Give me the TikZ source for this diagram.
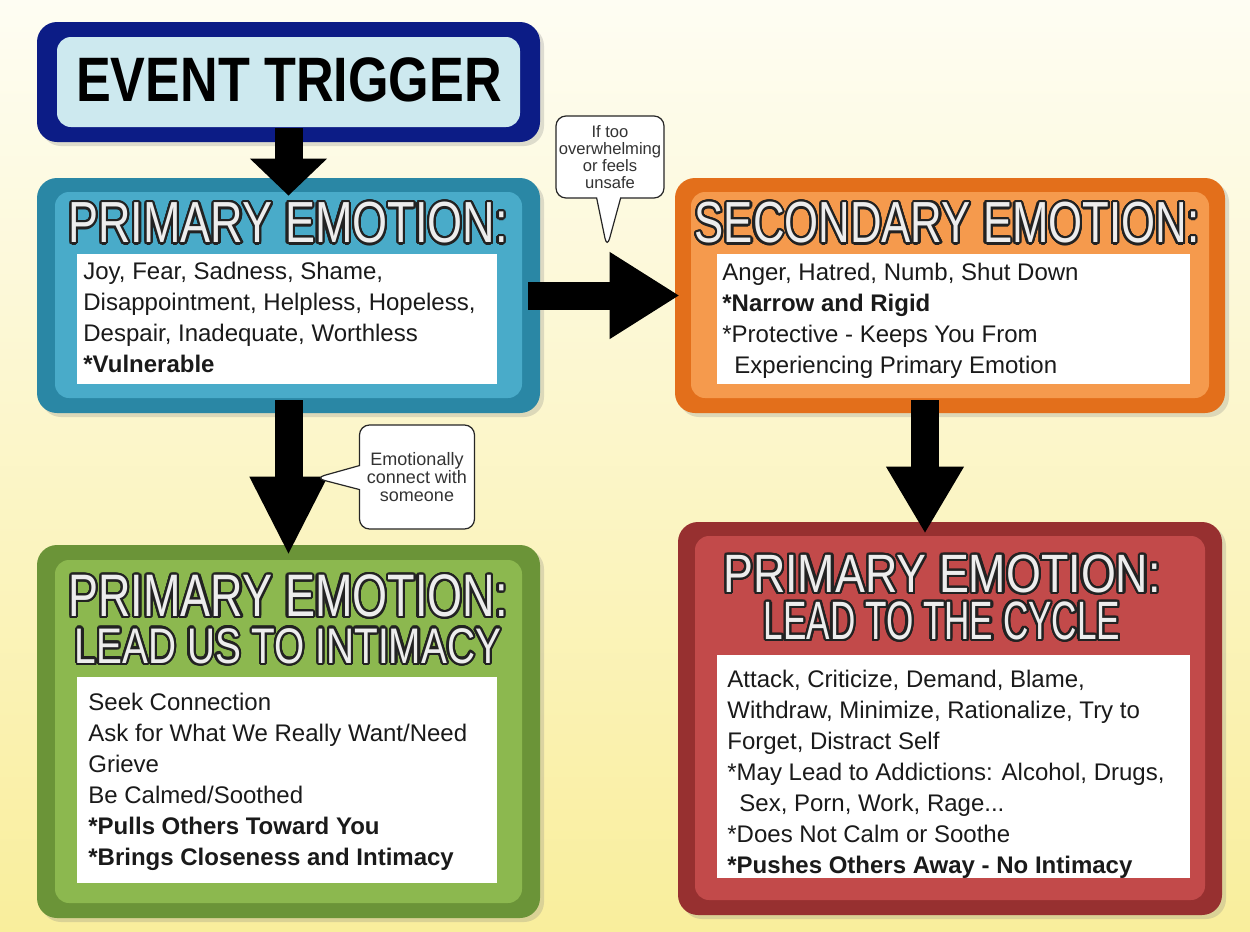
\documentclass[tikz,border=0pt]{standalone}
\usepackage{fontspec}
\usepackage{graphicx}
\usepackage{contour}
\setmainfont{Liberation Sans}
\usetikzlibrary{arrows.meta, fit, shadows, shapes.callouts}

\definecolor{bgtop}{HTML}{FEFDF3}
\definecolor{bgmid}{HTML}{FBF5C6}
\definecolor{bgbot}{HTML}{F9EE9C}
\definecolor{navyout}{HTML}{0C1C86}
\definecolor{navyin}{HTML}{CDE9EF}
\definecolor{blueout}{HTML}{2A87A5}
\definecolor{bluein}{HTML}{49ABC9}
\definecolor{orangeout}{HTML}{E36F1B}
\definecolor{orangein}{HTML}{F59A4D}
\definecolor{greenout}{HTML}{6B9438}
\definecolor{greenin}{HTML}{8CB84F}
\definecolor{redout}{HTML}{973030}
\definecolor{redin}{HTML}{C24A4A}
\definecolor{titlefill}{HTML}{EDEDED}
\definecolor{titleline}{HTML}{222222}
\definecolor{bodytext}{HTML}{1A1A1A}
\definecolor{bubbletext}{HTML}{333333}

\contourlength{1.1pt}
\contournumber{24}

% outlined, horizontally squeezed heading: size, squeeze, text
\newcommand{\paneltitle}[3]{\fontsize{#1}{#1}\selectfont\contour{titleline}{\scalebox{#2}[1]{#3}}}

\begin{document}
\begin{tikzpicture}[x=0.5pt, y=-0.5pt,
    panel/.style={rounded corners=10pt, inner sep=0pt,
        drop shadow={shadow xshift=2pt, shadow yshift=-2pt, opacity=0.25}},
    inset/.style={rounded corners=7pt, inner sep=0pt},
    listbox/.style={fill=white, inner sep=0pt},
    heading/.style={inner sep=0pt, text=titlefill},
    items/.style={anchor=north west, inner sep=0pt, align=left, text=bodytext,
        font=\fontsize{12}{15.5}\selectfont},
    bigarrow/.style 2 args={line width=14pt, -{Triangle[length=#1, width=#2]}},
    bubble/.style={rectangle callout, draw=black!85, line width=0.6pt, fill=white,
        rounded corners=5pt, align=center, inner sep=0pt, text=bubbletext,
        callout pointer width=12pt}]

    \useasboundingbox (0,0) rectangle (1250,932);
    \shade[top color=bgtop, middle color=bgmid, bottom color=bgbot] (0,0) rectangle (1250,932);

    % Event trigger
    \node[panel, fill=navyout, fit={(37,22) (540,142)}] (trigger) {};
    \node[inset, fill=navyin, fit={(57,37) (520,127)}] (triggerin) {};
    \node[inner sep=0pt] (triggertext) at (289,80)
        {\fontsize{31.4}{32}\selectfont\bfseries\scalebox{0.83}[1]{EVENT TRIGGER}};

    % Primary emotion
    \node[panel, fill=blueout, fit={(37,178) (540,413)}] (primary) {};
    \node[inset, fill=bluein, fit={(55,192) (522,398)}] (primaryin) {};
    \node[listbox, fit={(77,254) (497,384)}] (primarybox) {};
    \node[heading] (primaryhead) at (288,224) {\paneltitle{29}{0.776}{PRIMARY EMOTION:}};
    \node[items] (primarylist) at (83,262)
        {Joy, Fear, Sadness, Shame,\\Disappointment, Helpless, Hopeless,\\Despair, Inadequate, Worthless\\\textbf{*Vulnerable}};

    % Secondary emotion
    \node[panel, fill=orangeout, fit={(675,178) (1225,413)}] (secondary) {};
    \node[inset, fill=orangein, fit={(691,192) (1209,398)}] (secondaryin) {};
    \node[listbox, fit={(717,254) (1190,384)}] (secondarybox) {};
    \node[heading] (secondaryhead) at (947,224) {\paneltitle{29}{0.754}{SECONDARY EMOTION:}};
    \node[items] (secondarylist) at (722,263)
        {Anger, Hatred, Numb, Shut Down\\\textbf{*Narrow and Rigid}\\{}*Protective - Keeps You From\\\hspace*{6pt}Experiencing Primary Emotion};

    % Intimacy
    \node[panel, fill=greenout, fit={(37,545) (540,918)}] (intimacy) {};
    \node[inset, fill=greenin, fit={(55,560) (522,903)}] (intimacyin) {};
    \node[listbox, fit={(77,677) (497,883)}] (intimacybox) {};
    \node[heading] (intimacyhead) at (288,597) {\paneltitle{30}{0.75}{PRIMARY EMOTION:}};
    \node[heading] (intimacysub) at (288,647) {\paneltitle{25}{0.776}{LEAD US TO INTIMACY}};
    \node[items] (intimacylist) at (88,693)
        {Seek Connection\\Ask for What We Really Want/Need\\Grieve\\Be Calmed/Soothed\\\textbf{*Pulls Others Toward You}\\\textbf{*Brings Closeness and Intimacy}};

    % The cycle
    \node[panel, fill=redout, fit={(678,522) (1222,915)}] (cycle) {};
    \node[inset, fill=redin, fit={(695,536) (1205,900)}] (cyclein) {};
    \node[listbox, fit={(717,655) (1190,878)}] (cyclebox) {};
    \node[heading] (cyclehead) at (942,575) {\paneltitle{27}{0.83}{PRIMARY EMOTION:}};
    \node[heading] (cyclesub) at (942,622) {\paneltitle{27}{0.65}{LEAD TO THE CYCLE}};
    \node[items] (cyclelist) at (727,670)
        {Attack, Criticize, Demand, Blame,\\Withdraw, Minimize, Rationalize, Try to\\Forget, Distract Self\\{}*May Lead to Addictions: Alcohol, Drugs,\\\hspace*{6pt}Sex, Porn, Work, Rage...\\{}*Does Not Calm or Soothe\\\textbf{*Pushes Others Away - No Intimacy}};

    % arrows
    \draw[bigarrow={18.5pt}{37.5pt}, shorten <=-7pt, shorten >=-9pt] (trigger.south) -- (primary.north);
    \draw[bigarrow={35pt}{41pt}, shorten <=-6pt, shorten >=-2.5pt] (primary.east) -- (secondary.west);
    \draw[bigarrow={39.5pt}{36pt}, shorten <=-6.5pt, shorten >=-5.5pt] (primary.south) -- (intimacy.north);
    \draw[bigarrow={33.5pt}{36.5pt}, shorten <=-6.5pt, shorten >=-6pt]
        ([xshift=-12.5pt]secondary.south) -- ([xshift=-12.5pt]cycle.north);

    % speech bubbles
    \node[bubble, minimum width=54pt, minimum height=41pt, callout absolute pointer={(607,248)},
        font=\fontsize{8.3}{8.4}\selectfont] (unsafe) at (610,157) {If too\\overwhelming\\or feels\\unsafe};
    \node[bubble, minimum width=57.5pt, minimum height=52pt, callout absolute pointer={(315,478)},
        font=\fontsize{9}{9.2}\selectfont] (connect) at (417,477) {Emotionally\\connect with\\someone};

\end{tikzpicture}
\end{document}
